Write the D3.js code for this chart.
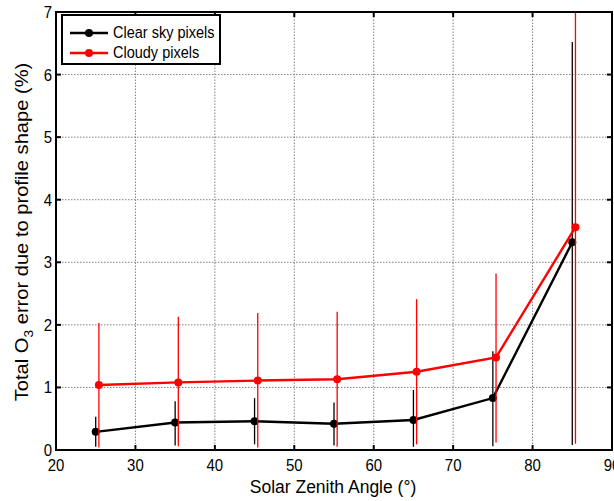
<!DOCTYPE html>
<html>
<head>
<meta charset="utf-8">
<script src="https://cdn.jsdelivr.net/npm/d3@7"></script>
<style>
  body { margin: 0; background: #fff; }
  svg { font-family: "Liberation Sans", Arial, sans-serif; }
</style>
</head>
<body>
<svg width="614" height="501"></svg>
<script>
// --- Data ---
const angles = [25, 35, 45, 55, 65, 75, 85];
const clearVals  = [0.29, 0.44, 0.46, 0.42, 0.48, 0.83, 3.32];
const clearLow   = [0.05, 0.07, 0.09, 0.07, 0.05, 0.06, 0.08];
const clearHigh  = [0.53, 0.78, 0.83, 0.76, 0.96, 1.58, 6.52];
const cloudyVals = [1.04, 1.08, 1.11, 1.13, 1.25, 1.48, 3.56];
const cloudyLow  = [0.04, 0.06, 0.04, 0.05, 0.09, 0.12, 0.10];
const cloudyHigh = [2.03, 2.13, 2.19, 2.21, 2.41, 2.82, 7.6];
const xTicks = [20, 30, 40, 50, 60, 70, 80, 90];
const yTicks = [0, 1, 2, 3, 4, 5, 6, 7];

const series = [
    { name: "Clear sky pixels", color: "#000", shift: 0, vals: clearVals, lo: clearLow, hi: clearHigh },
    { name: "Cloudy pixels", color: "#ff0000", shift: 0.4, vals: cloudyVals, lo: cloudyLow, hi: cloudyHigh }
];

// --- Setup ---
const svg = d3.select("svg");
const margin = { left: 56, right: 2, top: 12, bottom: 51 };
const width = 614, height = 501;

const x = d3.scaleLinear().domain([20, 90]).range([margin.left, width - margin.right]);
const y = d3.scaleLinear().domain([0, 7]).range([height - margin.bottom, margin.top]);

svg.append("defs").append("clipPath").attr("id", "plot-clip")
    .append("rect")
    .attr("x", x(20)).attr("y", y(7))
    .attr("width", x(90) - x(20)).attr("height", y(0) - y(7));

// --- Grid ---
const grid = svg.append("g").attr("class", "grid")
    .attr("stroke", "#808080").attr("stroke-width", 1).attr("stroke-dasharray", "1.5,1.5");
grid.selectAll("line.gx").data(xTicks.slice(1, -1)).enter().append("line")
    .attr("x1", d => x(d)).attr("x2", d => x(d))
    .attr("y1", y(0)).attr("y2", y(7));
grid.selectAll("line.gy").data(yTicks.slice(1, -1)).enter().append("line")
    .attr("x1", x(20)).attr("x2", x(90))
    .attr("y1", d => y(d)).attr("y2", d => y(d));

// --- Series ---
const plot = svg.append("g").attr("clip-path", "url(#plot-clip)");
series.forEach(s => {
    const pts = angles.map((a, i) => ({ a: a + s.shift, v: s.vals[i], lo: s.lo[i], hi: s.hi[i] }));
    const g = plot.append("g");
    g.selectAll("line.err").data(pts).enter().append("line")
        .attr("x1", d => x(d.a)).attr("x2", d => x(d.a))
        .attr("y1", d => y(d.lo)).attr("y2", d => y(d.hi))
        .attr("stroke", s.color).attr("stroke-width", 1.3);
    g.append("path").datum(pts)
        .attr("fill", "none").attr("stroke", s.color).attr("stroke-width", 2.4)
        .attr("d", d3.line().x(d => x(d.a)).y(d => y(d.v)));
    g.selectAll("circle").data(pts).enter().append("circle")
        .attr("cx", d => x(d.a)).attr("cy", d => y(d.v)).attr("r", 4)
        .attr("fill", s.color);
});

// --- Axes ---
const axisG = svg.append("g").attr("font-size", 15).attr("fill", "#000");
const tickLen = 5;
xTicks.forEach(t => {
    axisG.append("line").attr("x1", x(t)).attr("x2", x(t))
        .attr("y1", y(0)).attr("y2", y(0) - tickLen).attr("stroke", "#000").attr("stroke-width", 2);
    axisG.append("line").attr("x1", x(t)).attr("x2", x(t))
        .attr("y1", y(7)).attr("y2", y(7) + tickLen).attr("stroke", "#000").attr("stroke-width", 2);
    axisG.append("text")
        .attr("transform", `translate(${x(t)},${y(0) + 21}) scale(1,1.12)`)
        .attr("text-anchor", "middle").text(t);
});
yTicks.forEach(t => {
    axisG.append("line").attr("x1", x(20)).attr("x2", x(20) + tickLen)
        .attr("y1", y(t)).attr("y2", y(t)).attr("stroke", "#000").attr("stroke-width", 2);
    axisG.append("line").attr("x1", x(90)).attr("x2", x(90) - tickLen)
        .attr("y1", y(t)).attr("y2", y(t)).attr("stroke", "#000").attr("stroke-width", 2);
    axisG.append("text")
        .attr("transform", `translate(${x(20) - 4},${y(t) + 6}) scale(1,1.12)`)
        .attr("text-anchor", "end").text(t);
});
svg.append("rect")
    .attr("x", x(20)).attr("y", y(7))
    .attr("width", x(90) - x(20)).attr("height", y(0) - y(7))
    .attr("fill", "none").attr("stroke", "#000").attr("stroke-width", 2);

// --- Labels ---
svg.append("text")
    .attr("x", 333).attr("y", 493)
    .attr("text-anchor", "middle").attr("font-size", 17.5)
    .text("Solar Zenith Angle (°)");

const yLab = svg.append("text")
    .attr("transform", "translate(28,232) rotate(-90) scale(1.15,1)")
    .attr("text-anchor", "middle").attr("font-size", 17.5);
yLab.append("tspan").text("Total O");
yLab.append("tspan").attr("font-size", 12).attr("dy", 5).text("3");
yLab.append("tspan").attr("dy", -5).text(" error due to profile shape (%)");

// --- Legend ---
const legend = svg.append("g");
legend.append("rect")
    .attr("x", 62).attr("y", 15).attr("width", 158).attr("height", 49)
    .attr("fill", "#fff").attr("stroke", "#000").attr("stroke-width", 2);
series.forEach((s, i) => {
    const ly = 33 + i * 20;
    legend.append("line").attr("x1", 70).attr("x2", 108).attr("y1", ly).attr("y2", ly)
        .attr("stroke", s.color).attr("stroke-width", 2.4);
    legend.append("circle").attr("cx", 89).attr("cy", ly).attr("r", 4).attr("fill", s.color);
    legend.append("text")
        .attr("transform", `translate(113,${ly + 5}) scale(1,1.1)`)
        .attr("font-size", 14.5).text(s.name);
});
</script>
</body>
</html>
